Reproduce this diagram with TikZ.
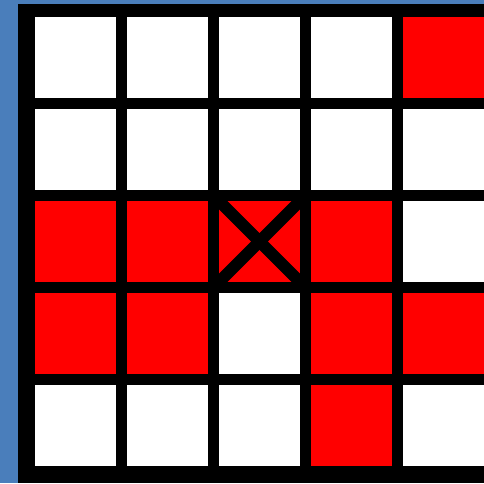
\documentclass[tikz,border=0pt]{standalone}
\definecolor{bgblue}{HTML}{4A7EBB}
\definecolor{cellred}{HTML}{FF0000}
\tikzset{
  xline/.style={line width=12pt, black}
}
\begin{document}
\begin{tikzpicture}[x=1pt,y=-1pt]
\useasboundingbox (0,0) rectangle (484,483);
\fill[bgblue] (0,0) rectangle (484,483);
\fill[black] (18,4) rectangle (484,483);
% grid: rows top to bottom, cell colours
\foreach \row [count=\r from 0] in {{white,white,white,white,cellred},{white,white,white,white,white},{cellred,cellred,cellred,cellred,white},{cellred,cellred,white,cellred,cellred},{white,white,white,cellred,white}}{
  \foreach \c [count=\k from 0] in \row {
    \pgfmathsetmacro{\xa}{35+92*\k}
    \pgfmathsetmacro{\ya}{17+92*\r}
    \pgfmathsetmacro{\xb}{min(\xa+81,484)}
    \pgfmathsetmacro{\yb}{\ya+81}
    \fill[fill=\c] (\xa,\ya) rectangle (\xb,\yb);
  }
}
% cross in the middle cell
\begin{scope}
  \clip (219,201) rectangle (300,282);
  \coordinate (tl) at (219,201);
  \coordinate (br) at (300,282);
  \coordinate (tr) at (300,201);
  \coordinate (bl) at (219,282);
  \draw[xline] (tl) -- (br);
  \draw[xline] (tr) -- (bl);
\end{scope}
\end{tikzpicture}
\end{document}
